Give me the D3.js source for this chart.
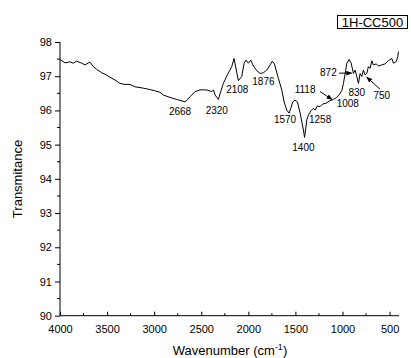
<!DOCTYPE html>
<html>
<head>
<meta charset="utf-8">
<script src="https://cdn.jsdelivr.net/npm/d3@7"></script>
<style>
  body { margin: 0; background: #fff; }
  text { font-family: Arial, "Liberation Sans", sans-serif; fill: #000; }
</style>
</head>
<body>
<svg id="chart" width="411" height="358"></svg>
<script>
// spectrum: wavenumber (cm-1) and transmittance (%)
var wavenumber = [4000,3947,3894,3859,3823,3769,3734,3699,3681,3646,3610,3557,3522,3469,3416,3363,3310,3256,3203,3132,3062,2998,2938,2903,2831,2760,2672,2619,2566,2513,2442,2389,2371,2353,2318,2293,2265,2223,2176,2152,2106,2070,2045,2024,2000,1974,1947,1910,1875,1840,1804,1769,1745,1723,1681,1645,1620,1592,1567,1549,1528,1504,1479,1450,1415,1403,1379,1362,1334,1309,1291,1267,1238,1209,1174,1139,1097,1061,1033,1007,990,972,954,930,909,884,866,848,831,813,795,778,760,742,725,707,689,672,643,619,583,548,513,476,459,431,413,406];
var transmittance = [97.49,97.39,97.42,97.38,97.44,97.38,97.33,97.39,97.41,97.28,97.20,97.10,97.06,96.97,96.89,96.79,96.76,96.76,96.69,96.66,96.62,96.58,96.53,96.45,96.38,96.32,96.25,96.40,96.55,96.60,96.60,96.55,96.60,96.45,96.32,96.55,96.79,97.04,97.28,97.52,96.87,96.99,97.38,97.47,97.38,97.47,97.30,97.16,97.08,97.10,97.18,97.33,97.44,97.36,96.94,96.60,96.25,96.01,95.92,96.06,96.25,96.30,96.25,95.92,95.43,95.21,95.72,95.87,95.99,96.06,96.01,96.13,96.11,96.19,96.21,96.28,96.32,96.38,96.47,96.58,96.79,97.08,97.38,97.49,97.39,97.08,97.18,96.99,96.79,97.08,96.99,97.18,97.04,97.08,97.28,97.23,97.45,97.33,97.36,97.30,97.33,97.36,97.45,97.52,97.38,97.42,97.57,97.72];

// peak labels and where their text sits (data units)
var peakNames = ["2668","2320","2108","1876","1570","1400","1258","1118","1008","872","830","750"];
var peakTextX = [2725,2335,2117,1840,1610,1415,1238,1397,944,1150,848,583];
var peakTextY = [95.87,95.89,96.51,96.74,95.63,94.81,95.63,96.51,96.10,97.01,96.42,96.33];

// arrows: [from wavenumber, from T, to wavenumber, to T]
var arrowFrom = [[1238,96.55],[1036,97.09],[601,96.62]];
var arrowTo = [[1111,96.32],[903,97.09],[742,96.97]];

var xTicks = [4000,3500,3000,2500,2000,1500,1000,500];
var yTicks = [90,91,92,93,94,95,96,97,98];
var seriesName = "1H-CC500";

var svg = d3.select("#chart");
var x = d3.scaleLinear().domain([4000, 400]).range([60, 399]);
var y = d3.scaleLinear().domain([90, 98]).range([315.7, 42]);

svg.append("defs").append("marker")
  .attr("id", "arr").attr("viewBox", "0 0 10 10")
  .attr("refX", 9).attr("refY", 5)
  .attr("markerWidth", 6).attr("markerHeight", 6)
  .attr("orient", "auto")
  .append("path").attr("d", "M0,1 L10,5 L0,9 z").attr("fill", "#000");

// x axis, ticks point inward
var xAxis = svg.append("g").attr("transform", "translate(0,315.7)");
xAxis.call(d3.axisBottom(x).tickValues(xTicks).tickSize(0).tickPadding(10).tickFormat(d3.format("d")));
xAxis.selectAll(".tick").append("line").attr("y1", 0).attr("y2", -4).attr("stroke", "#000");
xAxis.selectAll(".tick:not(:first-of-type)").filter(function(){return false;});
xAxis.selectAll("g.minor").data(d3.range(3750, 400, -500)).enter()
  .append("line").attr("x1", function(d){return x(d);}).attr("x2", function(d){return x(d);})
  .attr("y1", 0).attr("y2", -2.5).attr("stroke", "#000");
xAxis.select(".domain").attr("stroke", "#000").attr("d", "M60,0H399");
xAxis.selectAll("text").style("font-size", "11px");

// y axis, ticks outward
var yAxis = svg.append("g").attr("transform", "translate(60,0)");
yAxis.call(d3.axisLeft(y).tickValues(yTicks).tickSize(5).tickPadding(3).tickFormat(d3.format("d")));
yAxis.selectAll("g.minor").data(d3.range(90.5, 98, 1)).enter()
  .append("line").attr("x1", 0).attr("x2", -3)
  .attr("y1", function(d){return y(d);}).attr("y2", function(d){return y(d);})
  .attr("stroke", "#000");
yAxis.select(".domain").attr("stroke", "#000").attr("d", "M0,315.7V42");
yAxis.selectAll("text").style("font-size", "11px");

// spectrum
var pts = wavenumber.map(function(w, i){ return [w, transmittance[i]]; });
svg.append("path").datum(pts)
  .attr("fill", "none").attr("stroke", "#000").attr("stroke-width", 1)
  .attr("d", d3.line().x(function(d){return x(d[0]);}).y(function(d){return y(d[1]);}));

// peak labels
svg.selectAll("text.peak").data(peakNames).enter().append("text")
  .attr("class", "peak")
  .attr("x", function(d, i){return x(peakTextX[i]);})
  .attr("y", function(d, i){return y(peakTextY[i]);})
  .attr("text-anchor", "middle").style("font-size", "10px")
  .text(function(d){return d;});

svg.selectAll("line.arrow").data(arrowFrom).enter().append("line")
  .attr("class", "arrow")
  .attr("x1", function(d){return x(d[0]);}).attr("y1", function(d){return y(d[1]);})
  .attr("x2", function(d, i){return x(arrowTo[i][0]);}).attr("y2", function(d, i){return y(arrowTo[i][1]);})
  .attr("stroke", "#000").attr("stroke-width", 1).attr("marker-end", "url(#arr)");

// legend box
var lg = svg.append("g");
lg.append("rect").attr("x", 337.5).attr("y", 15.5).attr("width", 70).attr("height", 13)
  .attr("fill", "#fff").attr("stroke", "#000");
lg.append("text").attr("x", 372.5).attr("y", 26.5).attr("text-anchor", "middle")
  .style("font-size", "13px").text(seriesName);

// axis titles
svg.append("text").attr("transform", "translate(22,179) rotate(-90)")
  .attr("text-anchor", "middle").style("font-size", "13px").text("Transmitance");
var xt = svg.append("text").attr("x", 230).attr("y", 355)
  .attr("text-anchor", "middle").style("font-size", "13px");
xt.append("tspan").text("Wavenumber (cm");
xt.append("tspan").attr("dy", -5).style("font-size", "9px").text("-1");
xt.append("tspan").attr("dy", 5).text(")");
</script>
</body>
</html>
